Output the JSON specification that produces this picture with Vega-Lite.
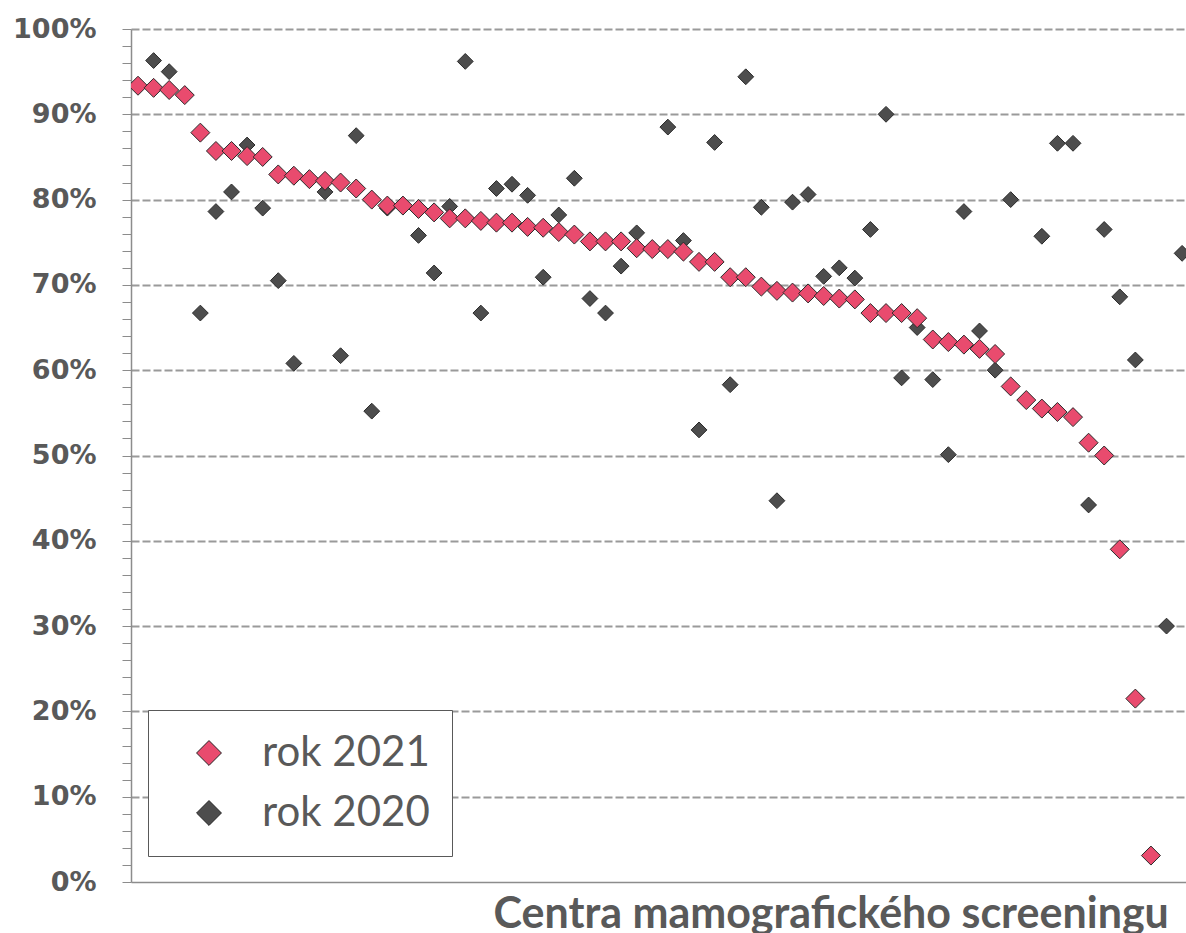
{
  "$schema": "https://vega.github.io/schema/vega-lite/v6.json",
  "width": 1055,
  "height": 853,
  "autosize": {"type": "none"},
  "padding": {"left": 131, "top": 29, "right": 0, "bottom": 51},
  "background": "white",
  "config": {"view": {"stroke": null}, "font": "Lato"},
  "data": {"values": [
    {"center": 1, "year": "rok 2021", "value": 0.9335},
    {"center": 2, "year": "rok 2021", "value": 0.931},
    {"center": 3, "year": "rok 2021", "value": 0.9285},
    {"center": 4, "year": "rok 2021", "value": 0.9225},
    {"center": 5, "year": "rok 2021", "value": 0.8785},
    {"center": 6, "year": "rok 2021", "value": 0.857},
    {"center": 7, "year": "rok 2021", "value": 0.857},
    {"center": 8, "year": "rok 2021", "value": 0.851},
    {"center": 9, "year": "rok 2021", "value": 0.85},
    {"center": 10, "year": "rok 2021", "value": 0.8295},
    {"center": 11, "year": "rok 2021", "value": 0.828},
    {"center": 12, "year": "rok 2021", "value": 0.824},
    {"center": 13, "year": "rok 2021", "value": 0.822},
    {"center": 14, "year": "rok 2021", "value": 0.82},
    {"center": 15, "year": "rok 2021", "value": 0.813},
    {"center": 16, "year": "rok 2021", "value": 0.8},
    {"center": 17, "year": "rok 2021", "value": 0.793},
    {"center": 18, "year": "rok 2021", "value": 0.793},
    {"center": 19, "year": "rok 2021", "value": 0.789},
    {"center": 20, "year": "rok 2021", "value": 0.785},
    {"center": 21, "year": "rok 2021", "value": 0.778},
    {"center": 22, "year": "rok 2021", "value": 0.778},
    {"center": 23, "year": "rok 2021", "value": 0.775},
    {"center": 24, "year": "rok 2021", "value": 0.773},
    {"center": 25, "year": "rok 2021", "value": 0.773},
    {"center": 26, "year": "rok 2021", "value": 0.768},
    {"center": 27, "year": "rok 2021", "value": 0.767},
    {"center": 28, "year": "rok 2021", "value": 0.762},
    {"center": 29, "year": "rok 2021", "value": 0.759},
    {"center": 30, "year": "rok 2021", "value": 0.751},
    {"center": 31, "year": "rok 2021", "value": 0.751},
    {"center": 32, "year": "rok 2021", "value": 0.751},
    {"center": 33, "year": "rok 2021", "value": 0.743},
    {"center": 34, "year": "rok 2021", "value": 0.742},
    {"center": 35, "year": "rok 2021", "value": 0.742},
    {"center": 36, "year": "rok 2021", "value": 0.739},
    {"center": 37, "year": "rok 2021", "value": 0.727},
    {"center": 38, "year": "rok 2021", "value": 0.727},
    {"center": 39, "year": "rok 2021", "value": 0.709},
    {"center": 40, "year": "rok 2021", "value": 0.709},
    {"center": 41, "year": "rok 2021", "value": 0.698},
    {"center": 42, "year": "rok 2021", "value": 0.693},
    {"center": 43, "year": "rok 2021", "value": 0.691},
    {"center": 44, "year": "rok 2021", "value": 0.69},
    {"center": 45, "year": "rok 2021", "value": 0.687},
    {"center": 46, "year": "rok 2021", "value": 0.684},
    {"center": 47, "year": "rok 2021", "value": 0.683},
    {"center": 48, "year": "rok 2021", "value": 0.667},
    {"center": 49, "year": "rok 2021", "value": 0.667},
    {"center": 50, "year": "rok 2021", "value": 0.667},
    {"center": 51, "year": "rok 2021", "value": 0.661},
    {"center": 52, "year": "rok 2021", "value": 0.636},
    {"center": 53, "year": "rok 2021", "value": 0.633},
    {"center": 54, "year": "rok 2021", "value": 0.63},
    {"center": 55, "year": "rok 2021", "value": 0.625},
    {"center": 56, "year": "rok 2021", "value": 0.619},
    {"center": 57, "year": "rok 2021", "value": 0.581},
    {"center": 58, "year": "rok 2021", "value": 0.565},
    {"center": 59, "year": "rok 2021", "value": 0.555},
    {"center": 60, "year": "rok 2021", "value": 0.551},
    {"center": 61, "year": "rok 2021", "value": 0.545},
    {"center": 62, "year": "rok 2021", "value": 0.515},
    {"center": 63, "year": "rok 2021", "value": 0.5},
    {"center": 64, "year": "rok 2021", "value": 0.39},
    {"center": 65, "year": "rok 2021", "value": 0.215},
    {"center": 66, "year": "rok 2021", "value": 0.031},
    {"center": 2, "year": "rok 2020", "value": 0.963},
    {"center": 3, "year": "rok 2020", "value": 0.95},
    {"center": 5, "year": "rok 2020", "value": 0.667},
    {"center": 6, "year": "rok 2020", "value": 0.786},
    {"center": 7, "year": "rok 2020", "value": 0.809},
    {"center": 8, "year": "rok 2020", "value": 0.864},
    {"center": 9, "year": "rok 2020", "value": 0.79},
    {"center": 10, "year": "rok 2020", "value": 0.705},
    {"center": 11, "year": "rok 2020", "value": 0.608},
    {"center": 13, "year": "rok 2020", "value": 0.809},
    {"center": 14, "year": "rok 2020", "value": 0.617},
    {"center": 15, "year": "rok 2020", "value": 0.875},
    {"center": 16, "year": "rok 2020", "value": 0.552},
    {"center": 17, "year": "rok 2020", "value": 0.79},
    {"center": 19, "year": "rok 2020", "value": 0.758},
    {"center": 20, "year": "rok 2020", "value": 0.714},
    {"center": 21, "year": "rok 2020", "value": 0.792},
    {"center": 22, "year": "rok 2020", "value": 0.962},
    {"center": 23, "year": "rok 2020", "value": 0.667},
    {"center": 24, "year": "rok 2020", "value": 0.813},
    {"center": 25, "year": "rok 2020", "value": 0.818},
    {"center": 26, "year": "rok 2020", "value": 0.805},
    {"center": 27, "year": "rok 2020", "value": 0.709},
    {"center": 28, "year": "rok 2020", "value": 0.782},
    {"center": 29, "year": "rok 2020", "value": 0.825},
    {"center": 30, "year": "rok 2020", "value": 0.684},
    {"center": 31, "year": "rok 2020", "value": 0.667},
    {"center": 32, "year": "rok 2020", "value": 0.722},
    {"center": 33, "year": "rok 2020", "value": 0.761},
    {"center": 35, "year": "rok 2020", "value": 0.885},
    {"center": 36, "year": "rok 2020", "value": 0.752},
    {"center": 37, "year": "rok 2020", "value": 0.53},
    {"center": 38, "year": "rok 2020", "value": 0.867},
    {"center": 39, "year": "rok 2020", "value": 0.583},
    {"center": 40, "year": "rok 2020", "value": 0.944},
    {"center": 41, "year": "rok 2020", "value": 0.791},
    {"center": 42, "year": "rok 2020", "value": 0.447},
    {"center": 43, "year": "rok 2020", "value": 0.797},
    {"center": 44, "year": "rok 2020", "value": 0.806},
    {"center": 45, "year": "rok 2020", "value": 0.71},
    {"center": 46, "year": "rok 2020", "value": 0.72},
    {"center": 47, "year": "rok 2020", "value": 0.708},
    {"center": 48, "year": "rok 2020", "value": 0.765},
    {"center": 49, "year": "rok 2020", "value": 0.9},
    {"center": 50, "year": "rok 2020", "value": 0.591},
    {"center": 51, "year": "rok 2020", "value": 0.65},
    {"center": 52, "year": "rok 2020", "value": 0.589},
    {"center": 53, "year": "rok 2020", "value": 0.501},
    {"center": 54, "year": "rok 2020", "value": 0.786},
    {"center": 55, "year": "rok 2020", "value": 0.646},
    {"center": 56, "year": "rok 2020", "value": 0.6},
    {"center": 57, "year": "rok 2020", "value": 0.8},
    {"center": 59, "year": "rok 2020", "value": 0.757},
    {"center": 60, "year": "rok 2020", "value": 0.866},
    {"center": 61, "year": "rok 2020", "value": 0.866},
    {"center": 62, "year": "rok 2020", "value": 0.442},
    {"center": 63, "year": "rok 2020", "value": 0.765},
    {"center": 64, "year": "rok 2020", "value": 0.686},
    {"center": 65, "year": "rok 2020", "value": 0.612},
    {"center": 67, "year": "rok 2020", "value": 0.3},
    {"center": 68, "year": "rok 2020", "value": 0.737}
  ]},
  "encoding": {
    "x": {
      "field": "center", "type": "quantitative",
      "scale": {"domain": [0.55, 68.25], "nice": false, "zero": false},
      "axis": {
        "title": "Centra mamografického screeningu",
        "labels": false, "ticks": false, "grid": false,
        "domain": true, "domainColor": "#8c8c8c", "domainWidth": 1.5,
        "titleFont": "Lato", "titleFontWeight": "bold", "titleFontSize": 43,
        "titleColor": "#595959", "titleAnchor": "start", "titleAlign": "left",
        "titleX": 362, "titleY": 45, "titleBaseline": "alphabetic", "titleLimit": 2000
      }
    },
    "y": {
      "field": "value", "type": "quantitative",
      "scale": {"domain": [0, 1], "nice": false},
      "axis": {
        "title": null,
        "values": [0,0.02,0.04,0.06,0.08,0.1,0.12,0.14,0.16,0.18,0.2,0.22,0.24,0.26,0.28,0.3,0.32,0.34,0.36,0.38,0.4,0.42,0.44,0.46,0.48,0.5,0.52,0.54,0.56,0.58,0.6,0.62,0.64,0.66,0.68,0.7,0.72,0.74,0.76,0.78,0.8,0.82,0.84,0.86,0.88,0.9,0.92,0.94,0.96,0.98,1],
        "format": ".0%",
        "labelExpr": "round(datum.value*100) % 10 == 0 ? datum.label : ''",
        "labelOverlap": false, "labelBound": false, "labelFlush": false,
        "grid": true, "gridDash": [8, 3], "gridColor": "#9a9a9a", "gridWidth": 2,
        "gridOpacity": {"condition": {"test": "round(datum.value*100) % 10 == 0 && datum.value > 0", "value": 1}, "value": 0},
        "tickSize": 9, "tickColor": "#8c8c8c", "tickWidth": 1,
        "domainColor": "#8c8c8c", "domainWidth": 1.5,
        "labelFont": "DejaVu Sans", "labelFontWeight": "bold", "labelFontSize": 27,
        "labelColor": "#595959", "labelPadding": 26
      }
    },
    "color": {
      "field": "year", "type": "nominal",
      "scale": {"domain": ["rok 2021", "rok 2020"], "range": ["#E94B6E", "#4D4D4D"]},
      "legend": {
        "title": null, "orient": "none", "legendX": 17, "legendY": 681,
        "symbolType": "diamond", "symbolSize": 620,
        "symbolStrokeColor": "#262626", "symbolStrokeWidth": 1, "symbolOffset": 18,
        "labelFont": "Lato", "labelFontSize": 42, "labelColor": "#595959",
        "labelOffset": 32, "labelLimit": 500, "rowPadding": 18, "padding": 22,
        "strokeColor": "#595959", "fillColor": "white"
      }
    }
  },
  "layer": [
    {
      "transform": [{"filter": "datum.year == 'rok 2020'"}],
      "mark": {"type": "point", "shape": "diamond", "filled": true, "size": 250, "stroke": "#2b2b2b", "strokeWidth": 1, "opacity": 1, "clip": true}
    },
    {
      "transform": [{"filter": "datum.year == 'rok 2021'"}],
      "mark": {"type": "point", "shape": "diamond", "filled": true, "size": 361, "stroke": "#2b2b2b", "strokeWidth": 1, "opacity": 1, "clip": true}
    }
  ]
}
